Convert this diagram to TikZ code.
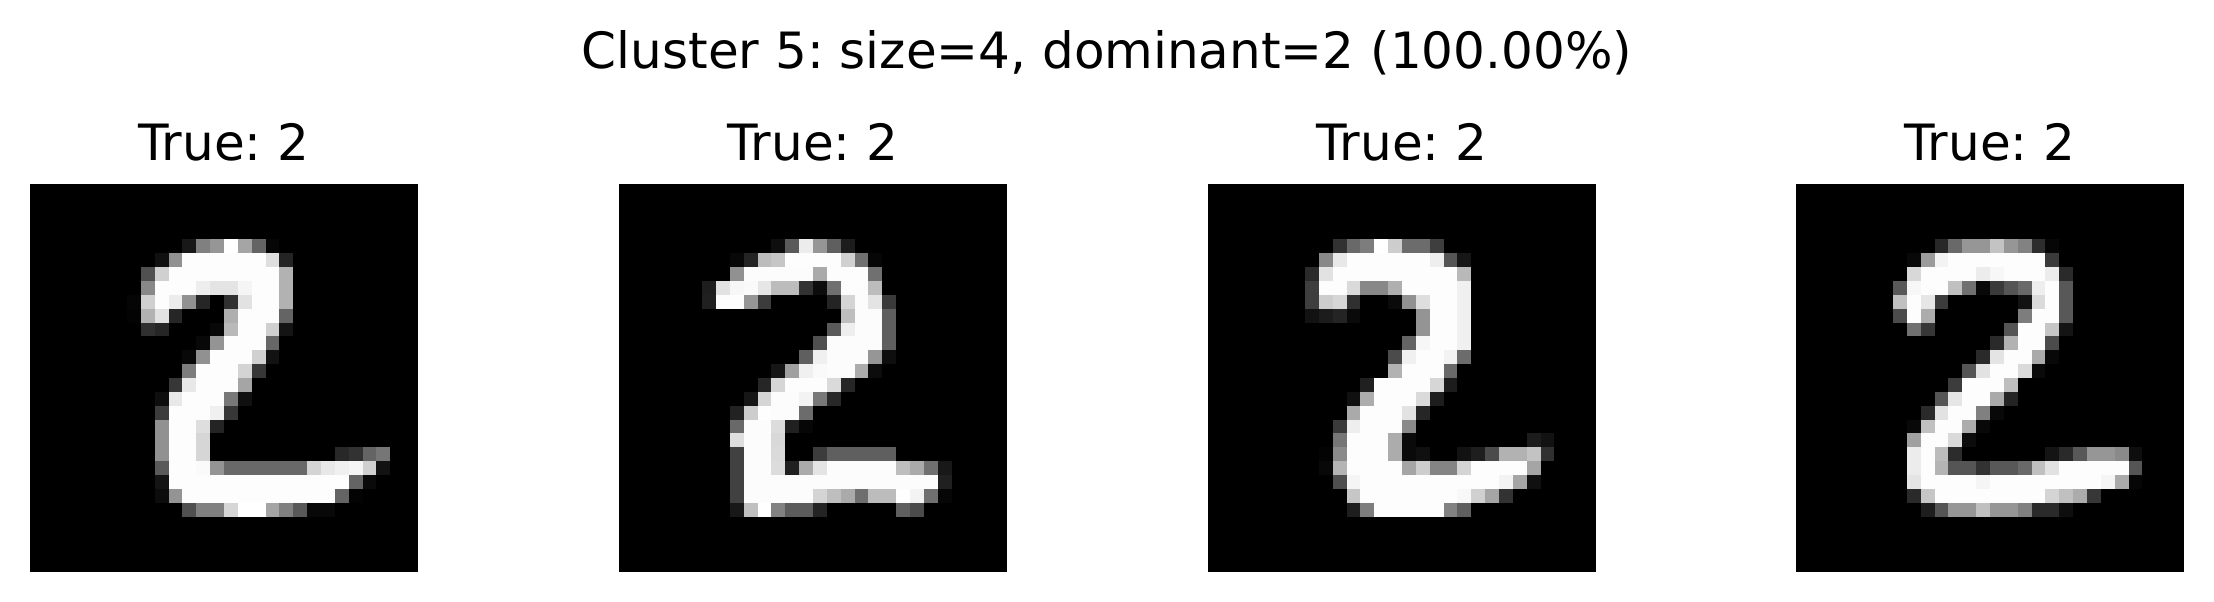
\documentclass[tikz,border=0pt]{standalone}
\usepackage{fontspec}
\setmainfont{DejaVu Sans}
\frenchspacing
\newcommand\rw[3]{\foreach \v [count=\i from 0] in {#3} {
  \pgfmathsetmacro\xa{round(\ox+(#2+\i)*13.857)}
  \pgfmathsetmacro\xb{round(\ox+(#2+\i+1)*13.857)}
  \pgfmathsetmacro\ya{602-round(184+#1*13.857)}
  \pgfmathsetmacro\yb{602-round(184+(#1+1)*13.857)}
  \definecolor{cellc}{RGB}{\v,\v,\v}
  \fill[cellc] (\xa,\ya) rectangle (\xb+0.05,\yb-0.05);
}}
\newcommand\blackbox[1]{\fill[black] (#1,602-184) rectangle (#1+388,602-572);}
\tikzset{maintitle/.style={anchor=base,inner sep=0pt,font=\fontsize{50.2}{60}\selectfont},
 subtitle/.style={anchor=base,inner sep=0pt,font=\fontsize{50.2}{60}\selectfont}}
\begin{document}
\begin{tikzpicture}[x=1bp,y=1bp]
\useasboundingbox (0,0) rectangle (2214,602);
\fill[white] (0,0) rectangle (2214,602);
\node[maintitle] (title) at (1107,602-69) {Cluster 5: size=4, dominant=2 (100.00\%)};
\node[subtitle] (t1) at (224,602-161) {True: 2};
\node[subtitle] (t2) at (813,602-161) {True: 2};
\node[subtitle] (t3) at (1402,602-161) {True: 2};
\node[subtitle] (t4) at (1990,602-161) {True: 2};
% image 1
\blackbox{30}
\def\ox{30}
\rw{4}{11}{24,128,150,255,165,100,6}
\rw{5}{9}{16,145,253,253,253,253,253,253,222,36}
\rw{6}{8}{80,208,253,253,253,253,253,253,253,253,178}
\rw{7}{8}{136,253,253,253,238,228,228,245,253,253,178}
\rw{8}{7}{5,208,253,236,145,38,0,48,226,253,253,178}
\rw{9}{7}{3,178,226,38,0,0,0,175,253,253,253,100}
\rw{10}{8}{48,38,0,0,0,8,185,253,253,208,20}
\rw{11}{12}{8,148,253,253,253,103}
\rw{12}{11}{8,145,253,253,253,208,18}
\rw{13}{11}{125,253,253,253,212,55}
\rw{14}{10}{55,232,253,253,253,165}
\rw{15}{9}{14,232,253,253,253,120,16}
\rw{16}{9}{60,253,253,253,240,55}
\rw{17}{9}{145,253,253,222,36}
\rw{18}{9}{145,253,253,214}
\rw{19}{9}{145,253,253,214}
\rw{19}{22}{40,50,100,118}
\rw{20}{9}{90,253,253,250,148,105,105,105,105,105,105,212,232,240,245,208,18}
\rw{21}{9}{20,253,253,253,253,253,253,253,253,253,253,253,253,253,100,10}
\rw{22}{9}{12,148,253,253,253,253,253,253,253,253,253,253,253,100,3}
\rw{23}{11}{80,128,128,214,255,255,165,128,88,8,8}
% image 2
\blackbox{619}
\def\ox{619}
\rw{4}{11}{14,90,236,150,95,28}
\rw{5}{8}{8,36,188,198,253,253,253,253,208,112,6}
\rw{6}{8}{145,252,252,252,252,252,170,253,253,253,112}
\rw{7}{6}{30,226,247,250,230,188,188,50,12,112,252,252,188}
\rw{8}{6}{32,253,253,150,60,0,0,0,0,36,212,252,228,58}
\rw{9}{16}{190,252,252,95}
\rw{10}{15}{90,238,252,252,95}
\rw{11}{14}{80,252,252,252,252,95}
\rw{12}{13}{95,240,252,252,252,150,14}
\rw{13}{11}{22,160,240,250,252,252,172,12}
\rw{14}{10}{38,214,253,253,253,218,38}
\rw{15}{9}{22,214,252,252,243,120,40}
\rw{16}{8}{34,205,254,252,252,108}
\rw{17}{8}{105,252,252,220,32,6}
\rw{18}{8}{222,252,252,216}
\rw{19}{8}{65,252,252,218,0,0,60,95,95,95,95,95}
\rw{20}{8}{65,252,252,220,32,170,228,252,252,252,252,252,190,170,112,24}
\rw{21}{8}{65,252,252,252,252,252,252,252,252,252,252,252,252,252,252,32}
\rw{22}{8}{65,252,252,252,252,252,212,190,170,110,188,188,254,243,112,6}
\rw{23}{8}{24,192,255,130,92,92,36,0,0,0,0,0,95,75}
% image 3
\blackbox{1208}
\def\ox{1208}
\rw{4}{9}{50,105,125,255,205,108,108,62}
\rw{5}{8}{136,232,253,253,253,253,253,253,238,85,22}
\rw{6}{7}{42,226,253,253,253,253,253,253,253,253,253,185}
\rw{7}{7}{62,253,253,218,136,136,175,253,253,253,253,240}
\rw{8}{7}{62,205,214,48,0,0,10,145,222,253,253,240}
\rw{9}{7}{18,28,36,10}
\rw{9}{15}{148,253,253,240}
\rw{10}{15}{148,253,253,240}
\rw{11}{14}{100,247,253,253,240}
\rw{12}{13}{75,240,253,253,243,108}
\rw{13}{13}{178,253,253,253,105}
\rw{14}{11}{32,253,253,253,253,214,28}
\rw{15}{10}{16,172,253,253,253,218,30}
\rw{16}{10}{170,253,253,253,226,38}
\rw{17}{9}{58,238,253,253,253,138}
\rw{18}{9}{118,253,253,253,172,10}
\rw{18}{23}{28,18}
\rw{19}{8}{3,138,253,253,253,172,10,16,0,0,18,30,75,178,178,195,48}
\rw{20}{8}{8,180,253,253,253,253,165,205,132,132,212,253,253,253,253,165}
\rw{21}{9}{78,245,253,253,253,253,253,253,253,253,253,253,243,165,16}
\rw{22}{10}{198,253,253,253,253,253,253,253,248,208,165,50}
\rw{23}{10}{30,125,253,253,253,253,253,130,95}
% image 4
\blackbox{1796}
\def\ox{1796}
\rw{4}{10}{40,105,150,150,195,150,130,45,6}
\rw{5}{8}{8,155,243,253,253,253,253,253,253,253,58}
\rw{6}{8}{216,253,253,253,253,236,247,253,253,253,236,42}
\rw{7}{7}{88,247,253,253,192,112,8,58,85,105,238,253,88}
\rw{8}{7}{192,253,230,60,0,0,0,0,0,18,218,253,88}
\rw{9}{7}{75,253,172}
\rw{9}{16}{125,253,253,88}
\rw{10}{8}{112,55}
\rw{10}{15}{85,253,253,198,20}
\rw{11}{14}{42,178,253,253,75}
\rw{12}{13}{42,228,253,253,170,8}
\rw{13}{12}{85,226,253,253,218,10}
\rw{14}{11}{60,253,253,253,190}
\rw{15}{10}{85,230,253,253,170,36}
\rw{16}{9}{42,226,253,253,128,8}
\rw{17}{8}{8,192,253,253,172,8}
\rw{18}{8}{160,253,253,218,12}
\rw{19}{8}{236,253,188,44}
\rw{19}{18}{20,42,88,150,150,138,14}
\rw{20}{8}{236,253,180,85,85,50,88,88,105,192,226,253,253,253,253,253,85}
\rw{21}{8}{228,253,253,253,253,245,253,253,253,253,253,253,253,253,245,170,6}
\rw{22}{8}{42,198,253,253,253,253,253,253,253,253,212,192,172,55}
\rw{23}{9}{30,85,150,150,192,150,150,128,42,42,14}
\end{tikzpicture}
\end{document}
